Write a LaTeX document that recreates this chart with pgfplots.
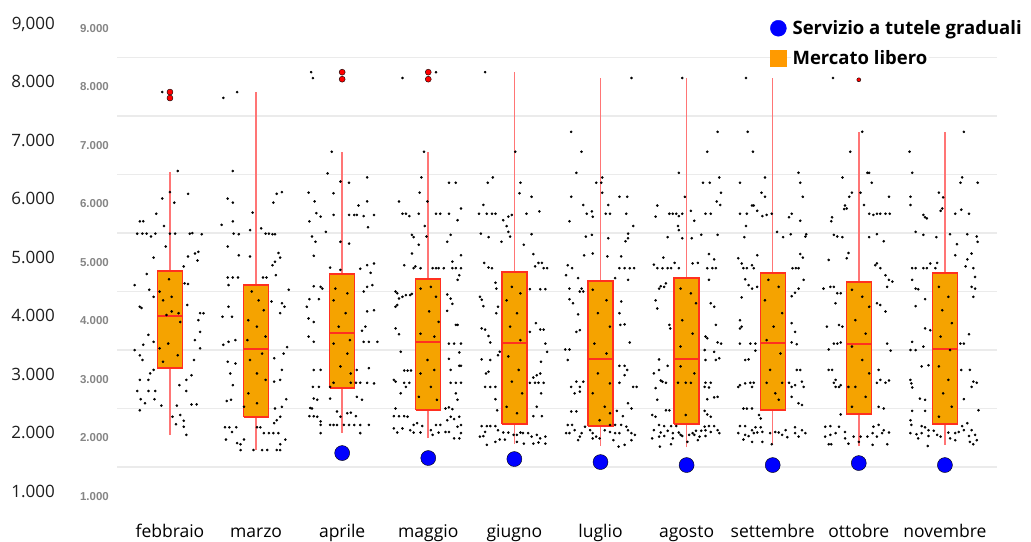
\documentclass[border=0pt]{standalone}
\usepackage{fontspec}
\setmainfont{Open Sans}
\newfontfamily\arialf{Liberation Sans}
\usepackage{pgfplots}
\pgfplotsset{compat=1.18}
\definecolor{boxorange}{HTML}{F5A300}
\definecolor{legorange}{HTML}{FF9A00}
\definecolor{boxred}{HTML}{FF3020}
\definecolor{whisk}{HTML}{FF7575}
\definecolor{gridc}{HTML}{EBEBEB}
\definecolor{lblgray}{HTML}{858585}
\definecolor{lbldark}{HTML}{1E1E1E}
\definecolor{bluedot}{HTML}{0000FF}
\newcommand\lbl[2]{\smash{\makebox[46pt][r]{\raisebox{3pt}{\fontsize{17}{17}\selectfont\color{lbldark}#1}}}\hspace{24pt}\makebox[30pt][r]{\arialf\bfseries\fontsize{11.5}{11.5}\selectfont\color{lblgray}#2}}
\pgfplotsset{dots/.style={only marks, mark=*, mark size=1.1pt, mark options={fill=black, draw=none}, forget plot}}
\begin{document}
\begin{tikzpicture}
\useasboundingbox (0,0) rectangle (1031pt,541pt);
\begin{axis}[
  at={(117pt,33pt)}, anchor=south west,
  width=880pt, height=508pt, scale only axis,
  xmin=-0.615, xmax=9.605, ymin=800, ymax=9484,
  axis line style={draw=none},
  tick style={draw=none},
  xtick={0,...,9},
  xticklabels={febbraio,marzo,aprile,maggio,giugno,luglio,agosto,settembre,ottobre,novembre},
  xticklabel style={font=\fontsize{17.5}{17.5}\selectfont, anchor=base, yshift=-29pt},
  ytick={1000,2000,...,9000},
  yticklabels={{\lbl{1.000}{1.000}},{\lbl{2.000}{2.000}},{\lbl{3.000}{3.000}},{\lbl{4.000}{4.000}},{\lbl{5.000}{5.000}},{\lbl{6.000}{6.000}},{\lbl{7.000}{7.000}},{\lbl{8.000}{8.000}},{\lbl{9,000}{9.000}}},
  yticklabel style={anchor=east, inner sep=0pt, xshift=-8pt},
  minor ytick={1500,2500,...,8500},
  yminorgrids=true, minor grid style={gridc, line width=1.6pt},
  clip=false,
  unbounded coords=jump,
  legend style={at={(0.742,0.964)}, anchor=north west, draw=none, fill=none,
    font=\bfseries\fontsize{18.5}{18.5}\selectfont, inner sep=0pt, row sep=10pt,
    nodes={fill=white, inner sep=2pt},
    /tikz/every odd column/.append style={column sep=4pt}},
  legend cell align=left,
]
% whiskers (lower whisker to upper whisker)
\addplot[whisk, line width=1.6pt, forget plot] coordinates {
(0,2047) (0,6543) (nan,nan) (1,1790) (1,7910) (nan,nan) (2,2081) (2,6885) (nan,nan)
(3,1996) (3,6885) (nan,nan) (4,1893) (4,8252) (nan,nan) (5,1859) (5,8150) (nan,nan)
(6,1842) (6,8150) (nan,nan) (7,1876) (7,8150) (nan,nan) (8,1859) (8,7226) (nan,nan)
(9,1876) (9,7226)};
% boxes (lower quartile to upper quartile)
\addplot[fill=boxorange, draw=boxred, line width=1.3pt, line join=miter, forget plot] coordinates {
(-0.145,3192) (0.145,3192) (0.145,4850) (-0.145,4850) (-0.145,3192) (nan,nan)
(0.855,2355) (1.145,2355) (1.145,4611) (0.855,4611) (0.855,2355) (nan,nan)
(1.855,2850) (2.145,2850) (2.145,4799) (1.855,4799) (1.855,2850) (nan,nan)
(2.855,2474) (3.145,2474) (3.145,4714) (2.855,4714) (2.855,2474) (nan,nan)
(3.855,2235) (4.145,2235) (4.145,4833) (3.855,4833) (3.855,2235) (nan,nan)
(4.855,2200) (5.145,2200) (5.145,4680) (4.855,4680) (4.855,2200) (nan,nan)
(5.855,2235) (6.145,2235) (6.145,4731) (5.855,4731) (5.855,2235) (nan,nan)
(6.855,2474) (7.145,2474) (7.145,4816) (6.855,4816) (6.855,2474) (nan,nan)
(7.855,2406) (8.145,2406) (8.145,4662) (7.855,4662) (7.855,2406) (nan,nan)
(8.855,2235) (9.145,2235) (9.145,4816) (8.855,4816) (8.855,2235)};
% medians
\addplot[boxred, line width=2pt, forget plot] coordinates {
(-0.145,4081) (0.145,4081) (nan,nan) (0.855,3517) (1.145,3517) (nan,nan)
(1.855,3790) (2.145,3790) (nan,nan) (2.855,3637) (3.145,3637) (nan,nan)
(3.855,3620) (4.145,3620) (nan,nan) (4.855,3346) (5.145,3346) (nan,nan)
(5.855,3346) (6.145,3346) (nan,nan) (6.855,3620) (7.145,3620) (nan,nan)
(7.855,3603) (8.145,3603) (nan,nan) (8.855,3517) (9.145,3517)};
% febbraio
\addplot[dots] table[x expr=\thisrow{d}+0, y=v] {
d v
0.09 6560
0.00 6200
-0.09 6090
0.05 6020
0.21 6170
-0.16 5830
-0.35 5700
-0.31 5700
-0.07 5620
-0.38 5490
-0.32 5490
-0.27 5490
-0.22 5440
-0.17 5490
0.00 5490
0.06 5490
0.23 5490
0.26 5500
0.37 5480
-0.05 5270
-0.19 5080
0.21 5100
0.29 5150
0.33 5180
0.16 4930
0.32 5030
-0.27 4800
-0.41 4610
0.17 4640
0.21 4630
-0.24 4530
-0.19 4410
-0.35 4240
-0.33 4220
0.20 4270
0.35 4130
0.39 4130
0.33 4010
-0.25 3760
-0.19 3640
0.35 3810
0.29 3670
-0.41 3500
-0.35 3410
-0.31 3590
-0.32 3330
0.35 3530
0.28 3330
-0.19 3160
-0.23 3100
-0.25 2990
-0.35 2990
0.25 3070
0.19 2990
-0.38 2800
-0.25 2800
-0.17 2800
0.11 2900
0.19 2800
-0.34 2660
-0.18 2660
-0.29 2590
-0.10 2550
0.08 2550
0.31 2570
0.25 2570
-0.35 2470
0.03 2360
0.12 2390
0.16 2290
0.07 2230
0.16 2190
0.19 2050
-0.12 4500
-0.01 4710
-0.08 4350
0.02 4160
0.10 4130
-0.04 4100
0.12 3980
-0.12 3530
-0.02 3610
0.09 3410
-0.08 3300
0.02 4410
-0.09 7910
};
% marzo
\addplot[dots] table[x expr=\thisrow{d}+1, y=v] {
d v
-0.27 6560
0.30 6200
0.24 6170
-0.33 6090
-0.27 6020
0.20 6020
-0.04 5850
-0.40 5640
-0.27 5700
-0.07 5550
-0.26 5490
-0.20 5480
0.06 5580
0.11 5490
0.15 5490
0.19 5480
0.22 5480
-0.33 5270
-0.20 5120
0.26 5160
0.28 5080
0.22 5010
0.19 4950
-0.07 5100
-0.33 4740
-0.27 4740
-0.21 4740
0.08 4740
0.12 4740
0.23 4780
-0.32 4610
-0.39 4070
-0.32 4240
-0.28 4070
0.18 4330
0.30 4300
0.28 4130
0.33 4240
0.38 4530
-0.38 3590
-0.32 3640
-0.24 3670
0.36 3550
0.32 3440
-0.33 3300
-0.24 3270
0.21 3360
0.30 3160
0.28 2990
-0.30 3100
-0.27 2900
0.21 2960
0.35 2660
-0.34 2630
-0.29 2650
0.30 2530
0.22 2500
0.28 2360
0.24 2300
0.21 2250
-0.36 2180
-0.31 2180
-0.28 2100
-0.23 2180
-0.35 1970
-0.22 1910
-0.18 1890
-0.14 1970
0.01 2180
0.05 2180
0.09 2080
0.15 2080
0.20 2080
0.26 2080
0.34 1970
0.28 1890
-0.18 1790
-0.03 1790
0.07 1790
0.13 1790
0.24 1790
0.28 1790
-0.05 4500
0.03 4350
0.09 4180
-0.09 4010
0.01 3900
0.11 3730
-0.10 3670
0.07 3440
-0.07 3330
0.01 3100
0.11 2990
-0.09 2760
0.01 2590
-0.14 2530
-0.38 7810
-0.22 7910
};
% aprile
\addplot[dots] table[x expr=\thisrow{d}+2, y=v] {
d v
-0.12 6890
-0.17 6520
-0.02 6380
0.08 6360
0.29 6450
-0.39 6190
-0.32 6040
-0.10 6180
0.19 5970
0.29 6040
-0.30 5840
-0.25 5780
-0.10 5810
0.08 5810
0.14 5810
0.17 5810
0.25 5790
0.37 5810
-0.38 5700
0.30 5600
-0.35 5440
-0.31 5350
-0.19 5520
-0.02 5350
0.08 5320
-0.33 5110
-0.14 4910
-0.02 4870
0.21 4890
0.29 4950
0.37 4980
0.33 4820
-0.25 4580
-0.23 4550
-0.33 4590
-0.38 4370
-0.27 4370
0.29 4580
0.35 4610
0.25 4500
-0.41 4240
-0.39 4040
0.29 4160
0.37 4180
-0.33 3980
0.27 3900
0.23 3830
-0.39 3730
-0.33 3640
0.25 3640
0.31 3640
0.41 3640
-0.25 3160
-0.33 3160
0.17 3160
0.31 3190
-0.34 2870
-0.27 2870
-0.14 2870
-0.10 2940
0.10 2940
0.16 2940
0.21 2940
0.29 2940
0.37 2930
-0.33 2670
-0.29 2650
-0.14 2670
0.17 2700
0.23 2650
-0.37 2510
-0.35 2500
-0.29 2360
-0.38 2370
-0.33 2370
-0.25 2280
-0.06 2450
-0.02 2360
0.06 2420
0.10 2430
0.16 2370
-0.25 2220
-0.14 2220
-0.10 2220
-0.06 2220
0.02 2220
0.08 2220
0.14 2220
0.21 2220
0.31 2220
-0.25 2080
0.21 2080
-0.08 4550
0.06 4470
-0.10 4350
0.04 4130
-0.04 3900
0.09 3670
-0.10 3610
0.06 3440
-0.02 3220
0.10 3100
-0.36 8250
-0.34 8150
};
% maggio
\addplot[dots] table[x expr=\thisrow{d}+3, y=v] {
d v
-0.05 6890
-0.08 6450
0.24 6360
0.32 6360
-0.10 6190
-0.01 6040
-0.34 6040
-0.30 5830
-0.26 5830
-0.22 5790
-0.11 5830
0.09 5830
0.14 5830
0.24 5830
0.38 5920
0.34 5720
-0.04 5620
-0.19 5470
-0.17 5430
-0.02 5440
0.26 5470
0.22 5350
-0.11 5300
-0.19 5150
0.38 5120
-0.28 4950
-0.17 4900
-0.15 4930
-0.09 4900
0.05 4900
0.09 4900
0.12 4900
0.18 4900
0.28 4900
0.32 4900
0.38 4900
0.28 5010
0.36 4780
0.34 4700
-0.38 4500
-0.36 4470
-0.34 4380
-0.30 4410
-0.26 4440
-0.21 4440
-0.19 4460
-0.36 4270
-0.38 4240
0.22 4450
0.26 4380
0.28 4290
0.22 4170
0.32 3930
0.34 3930
-0.38 3870
-0.34 3770
0.24 3610
0.30 3610
0.38 3610
-0.32 3470
0.36 3460
0.24 3350
0.36 3230
0.38 3230
-0.28 3150
-0.24 3150
-0.20 3150
0.26 3160
-0.40 2990
-0.38 2960
-0.28 2940
-0.26 2870
-0.22 2940
0.26 2940
0.32 2940
0.38 2940
-0.32 2760
0.32 2760
0.34 2650
-0.38 2500
0.20 2500
0.24 2520
0.28 2490
-0.40 2370
-0.34 2370
-0.28 2370
-0.24 2360
-0.17 2220
-0.13 2250
-0.07 2200
0.09 2220
0.14 2220
0.22 2300
0.26 2360
0.30 2320
0.36 2360
0.38 2220
-0.40 2160
-0.36 2090
-0.30 2160
-0.21 2130
-0.17 2090
-0.09 2090
0.03 2130
0.05 2050
0.12 2090
0.20 2100
0.24 2100
0.34 2190
0.38 2080
0.30 1990
0.36 1990
-0.09 4550
0.03 4580
0.09 4410
0.01 4160
0.12 3980
-0.09 3780
0.07 3730
-0.01 3330
-0.09 3100
0.07 3160
0.03 2870
0.10 2650
-0.11 2700
0.09 8250
-0.30 8150
};
% giugno
\addplot[dots] table[x expr=\thisrow{d}+4, y=v] {
d v
0.01 6890
-0.25 6450
-0.31 6360
0.07 6360
0.06 6180
0.20 6120
0.29 5870
-0.36 5980
-0.41 5830
-0.32 5830
-0.26 5830
-0.22 5830
-0.07 5780
-0.03 5810
0.14 5830
-0.39 5490
-0.30 5430
-0.13 5720
-0.09 5620
-0.07 5520
-0.05 5440
0.20 5480
-0.15 5350
0.11 5300
0.22 5140
-0.35 4990
-0.30 4910
-0.26 4900
0.24 4930
0.28 4990
0.32 4990
0.34 4900
0.38 4900
-0.22 4650
-0.21 4550
-0.40 4410
-0.38 4360
-0.36 4250
0.18 4540
0.30 4540
0.36 4540
-0.19 4240
-0.21 4130
-0.38 3870
-0.34 3850
-0.28 3630
-0.30 3740
0.25 3960
0.30 3850
0.34 3850
0.18 3810
-0.17 3470
-0.19 3410
0.38 3470
0.36 3610
-0.38 3340
-0.28 3330
0.31 3300
-0.33 3100
-0.34 2870
-0.28 2870
-0.22 2870
0.22 3030
0.26 3070
0.30 3100
-0.30 3130
0.18 2940
0.24 2940
0.28 2940
0.34 2940
-0.22 2660
0.31 2760
0.26 2530
-0.20 2470
0.22 2370
0.32 2370
-0.38 2200
-0.32 2200
-0.28 2200
-0.34 2100
-0.22 2200
-0.19 2130
-0.13 2090
-0.07 2090
-0.01 2050
0.03 2050
0.07 2090
0.10 2080
0.16 2080
0.20 2020
0.26 2050
0.30 1990
0.36 2020
-0.40 2020
-0.36 2030
-0.32 1880
-0.22 1930
-0.17 1970
-0.11 1970
0.03 1930
0.11 1900
0.22 1900
0.28 1920
0.36 1900
-0.03 4580
0.07 4470
-0.09 4350
0.03 4130
-0.05 3900
0.07 3670
-0.07 3390
0.05 3160
-0.03 2960
0.09 2760
-0.09 2530
0.03 2420
-0.34 8250
};
% luglio
\addplot[dots] table[x expr=\thisrow{d}+5, y=v] {
d v
-0.22 6890
-0.28 6530
-0.05 6360
0.02 6450
0.01 6360
0.02 6190
-0.34 6120
-0.20 5980
0.22 6120
0.31 6120
-0.10 5870
-0.09 5780
-0.16 5830
0.09 5980
0.06 5830
0.11 5830
0.30 5830
-0.36 5700
0.38 5620
-0.17 5440
-0.10 5470
0.09 5410
0.32 5490
0.32 5410
0.29 5360
-0.09 5150
-0.19 5120
0.08 5100
0.24 5100
-0.38 4950
-0.33 4900
-0.40 4780
-0.26 4730
-0.20 4500
-0.24 4500
-0.22 4550
-0.36 4550
0.22 4900
0.28 4900
0.34 4900
0.39 4900
0.32 4700
0.17 4730
-0.36 4370
-0.32 4300
0.24 4330
-0.26 4110
0.22 4130
0.23 3930
0.28 3940
-0.24 3840
-0.28 3810
-0.36 3510
-0.41 3510
0.34 3630
-0.38 3330
0.22 3230
0.28 3230
0.31 3160
0.28 3070
0.42 2870
-0.34 2870
-0.28 2960
-0.24 2870
-0.20 2960
-0.30 2760
-0.24 2790
0.22 2940
0.38 2870
0.32 2590
0.36 2500
-0.34 2450
-0.28 2450
0.19 2460
0.26 2370
-0.38 2220
-0.33 2220
-0.30 2130
-0.22 2080
-0.18 2190
-0.12 2130
0.11 2220
0.17 2220
0.24 2220
0.30 2190
-0.40 2080
-0.36 2080
-0.24 2020
-0.09 2080
-0.05 2020
0.05 2130
0.11 2100
0.17 2080
0.22 2080
0.32 2130
0.36 2080
0.40 2050
-0.26 1960
-0.09 1990
-0.01 1990
0.15 1960
0.21 1850
0.28 1880
0.36 1960
-0.09 4530
0.07 4350
-0.03 4130
0.11 3900
-0.07 3610
0.07 3440
-0.03 3100
0.11 2930
-0.09 2760
0.05 2530
-0.01 2300
0.11 2420
0.36 8150
-0.34 7230
};
% agosto
\addplot[dots] table[x expr=\thisrow{d}+6, y=v] {
d v
0.24 6890
-0.09 6530
0.19 6360
0.27 6360
0.38 6450
-0.02 6120
0.40 6190
0.35 6040
-0.34 5970
-0.36 5780
-0.20 5830
-0.16 5830
-0.12 5830
-0.09 5790
-0.05 5830
0.05 5880
0.09 5710
0.22 5830
0.28 5830
0.39 5980
-0.10 5620
-0.09 5550
-0.22 5430
-0.05 5410
0.06 5410
0.17 5470
0.36 5470
-0.27 5080
-0.14 4990
-0.18 4900
-0.38 4960
-0.34 4900
-0.28 4900
-0.22 4900
-0.09 4900
0.07 4980
0.13 4990
0.26 5140
0.32 5050
0.24 4900
0.30 4900
0.34 4900
-0.30 4590
-0.26 4580
-0.24 4640
-0.32 4550
0.26 4700
0.28 4300
0.32 4240
-0.36 4350
-0.34 4210
0.34 3930
-0.20 3930
-0.19 3870
0.22 3730
0.24 3700
0.36 3630
0.40 3610
0.21 3500
0.32 3470
-0.32 3340
-0.22 3230
0.22 3330
0.34 3330
0.38 3360
-0.38 3100
-0.32 3160
-0.28 2960
-0.30 2980
-0.24 2940
0.22 2940
0.28 2940
0.21 2870
0.26 2860
-0.36 2850
-0.34 2650
0.24 2660
0.32 2690
0.36 2700
-0.24 2470
-0.20 2470
0.21 2460
-0.40 2390
-0.36 2360
0.24 2400
0.28 2360
-0.32 2220
-0.26 2200
-0.18 2200
-0.12 2200
0.21 2190
0.26 2200
0.32 2200
-0.38 2130
-0.30 2090
-0.22 2120
-0.16 2080
-0.09 2090
0.07 2080
0.11 2120
0.17 2120
0.22 2130
0.28 2100
0.36 2130
-0.40 1990
-0.32 2020
-0.26 2030
-0.16 1990
-0.07 2050
-0.05 2030
0.03 2050
0.09 2050
0.15 2020
0.22 2030
0.38 2080
-0.31 1850
-0.18 1890
0.01 1930
0.13 1960
-0.07 4550
0.05 4470
0.11 4300
-0.05 4010
0.07 3780
-0.07 3560
0.09 3100
-0.01 2940
-0.10 2940
0.05 2940
-0.01 2390
-0.07 3220
-0.05 8150
0.36 7230
};
% settembre
\addplot[dots] table[x expr=\thisrow{d}+7, y=v] {
d v
-0.23 6890
-0.38 6360
-0.09 6450
0.32 6360
0.30 6530
-0.13 6190
-0.09 6120
0.35 6120
-0.24 5970
-0.22 5970
-0.18 5880
-0.38 5830
-0.30 5830
-0.12 5790
-0.07 5810
-0.01 5830
0.19 5770
0.22 5830
0.32 5710
0.05 5520
0.12 5430
0.21 5480
0.38 5440
0.39 5480
-0.33 5430
-0.31 5620
-0.18 5120
-0.40 5070
-0.36 4980
-0.34 4900
-0.30 4900
-0.24 4950
-0.22 4900
0.32 5140
0.35 5080
0.23 4900
0.27 4900
0.30 4900
0.36 4700
-0.32 4710
-0.28 4610
-0.24 4550
-0.18 4580
0.22 4420
0.26 4480
0.30 4550
-0.36 4400
-0.38 4010
-0.38 3870
-0.36 3900
0.22 3960
0.26 3810
-0.38 3610
-0.26 3610
-0.20 3610
-0.20 3490
0.22 3630
0.28 3600
-0.32 3330
-0.28 3340
0.28 3160
0.32 3160
-0.40 2870
-0.38 2900
-0.32 2930
-0.26 2940
-0.24 2870
-0.22 2940
0.19 2940
0.22 2870
0.26 2900
0.34 2960
0.36 2870
-0.34 2500
-0.30 2500
-0.24 2500
-0.16 2390
-0.14 2330
0.22 2700
0.30 2590
0.34 2560
-0.38 2200
-0.32 2200
-0.20 2180
-0.14 2180
-0.24 2130
-0.40 2080
-0.32 2050
-0.28 2030
-0.22 2080
-0.18 2090
-0.12 2100
-0.03 2080
0.03 2100
0.07 2090
0.15 2130
0.26 2180
0.34 2130
0.38 2080
-0.34 1970
-0.24 1930
-0.12 1930
-0.01 1890
0.11 2050
0.17 2010
0.26 2080
0.30 2020
-0.05 4700
0.07 4580
-0.09 4350
0.11 4130
0.01 3900
-0.07 3670
0.09 3440
-0.03 3160
0.11 2940
-0.07 2940
0.03 2760
0.07 2650
-0.31 8150
-0.29 7230
};
% ottobre
\addplot[dots] table[x expr=\thisrow{d}+8, y=v] {
d v
-0.10 6890
0.12 6530
-0.19 6450
0.15 6360
-0.08 6190
0.02 6190
-0.11 6120
0.35 6120
-0.16 5970
-0.14 5920
-0.17 5910
0.06 5980
-0.31 5770
-0.32 5700
0.12 5830
0.17 5810
0.21 5830
0.25 5830
0.31 5830
0.36 5830
-0.29 5470
-0.25 5440
-0.19 5430
0.12 5430
0.21 5480
0.29 5360
-0.12 5160
-0.14 5070
-0.35 5040
0.21 4980
0.25 4900
0.19 4950
-0.41 4550
-0.33 4580
-0.29 4580
-0.25 4470
0.31 4780
0.35 4700
0.39 4670
0.33 4580
-0.21 4470
-0.27 4300
0.21 4300
0.25 4270
0.31 4160
-0.37 3900
-0.23 3930
-0.19 3900
-0.29 3610
-0.25 3610
-0.21 3630
0.33 3610
0.37 3490
-0.35 3510
-0.35 3160
-0.31 3160
-0.27 2870
-0.23 2870
-0.21 2900
-0.12 2870
-0.27 2990
-0.29 2940
0.21 2940
0.25 2990
0.31 2940
0.35 2980
0.23 3160
0.29 2500
0.23 2530
-0.21 2400
-0.39 2190
-0.33 2200
-0.23 2190
-0.16 2100
0.17 2190
0.23 2220
0.29 2130
0.35 2090
-0.39 2020
-0.33 2050
-0.27 2080
-0.16 1990
-0.06 2020
0.02 2020
0.10 2020
0.16 2080
0.21 2020
0.27 2080
-0.35 1890
-0.32 1890
-0.12 1900
0.00 1930
0.16 1880
0.33 1890
-0.08 4530
0.04 4410
0.12 4240
-0.04 4010
0.08 3780
-0.08 3560
0.04 3330
0.12 3100
-0.04 2870
0.08 2700
-0.08 2530
-0.30 8150
0.04 7230
0.10 6530
};
% novembre
\addplot[dots] table[x expr=\thisrow{d}+9, y=v] {
d v
-0.41 6890
-0.38 6530
0.18 6360
0.20 6450
0.38 6360
-0.07 6190
-0.02 6110
-0.40 6120
-0.40 5980
-0.25 5810
-0.23 5770
-0.21 5750
-0.05 5880
-0.03 5920
0.12 5830
0.28 5830
0.19 5900
-0.34 5520
-0.25 5470
-0.10 5430
0.06 5480
0.26 5480
0.37 5440
0.38 5350
0.14 5310
0.12 5120
0.31 5150
0.26 5050
-0.38 4900
-0.34 4900
-0.25 4900
-0.21 4900
-0.17 4980
-0.09 4990
-0.11 4900
0.24 4930
0.33 4900
0.35 4750
-0.38 4700
-0.34 4550
-0.31 4540
0.31 4580
0.35 4550
0.33 4410
-0.23 4370
-0.34 4250
0.28 3770
-0.38 3640
-0.40 3500
-0.34 3500
-0.25 3560
-0.17 3840
-0.23 3870
0.18 3610
0.22 3610
-0.27 3220
-0.19 3240
-0.40 2990
-0.39 2930
-0.38 2860
0.33 2960
0.31 2870
0.37 2940
0.19 3160
0.29 3160
-0.29 2670
-0.23 2650
0.22 2660
-0.38 2460
-0.23 2460
0.39 2470
-0.40 2300
-0.39 2220
-0.27 2200
-0.19 2130
-0.23 2180
0.20 2200
0.26 2250
0.31 2130
-0.40 2080
-0.33 2060
-0.27 2080
-0.19 2030
-0.13 2120
-0.09 2050
0.04 2090
0.12 2080
0.16 2100
0.22 2130
0.28 2030
0.35 2050
-0.31 1990
-0.20 1860
-0.05 2020
0.06 1990
0.12 1960
0.29 1930
0.33 1890
0.37 1960
-0.07 4580
0.04 4410
-0.03 4180
0.08 3960
-0.05 3730
0.06 3500
-0.07 3220
0.04 2990
-0.02 2760
0.08 2530
-0.07 2360
0.22 7230
};
% outliers
\addplot[only marks, mark=*, mark size=3pt, mark options={fill=red, draw=none}, forget plot] coordinates {(0,7910) (0,7808) (2,8250) (2,8130) (3,8250) (3,8130)};
\addplot[only marks, mark=*, mark size=2pt, mark options={fill=red, draw=none}, forget plot] coordinates {(8,8120)};
% Servizio a tutele graduali
\addplot[only marks, mark=*, mark size=7.5pt, mark options={fill=bluedot, draw=none}, forget plot] coordinates {(2,1739) (3,1654) (4,1637) (5,1585) (6,1534) (7,1534) (8,1568) (9,1534)};
\addlegendimage{legend image code/.code={\fill[bluedot] (8pt,0pt) circle (8pt);}}
\addlegendentry{Servizio a tutele graduali}
\addlegendimage{legend image code/.code={\fill[legorange] (0pt,-8pt) rectangle (16pt,8pt);}}
\addlegendentry{Mercato libero}
\end{axis}
\end{tikzpicture}
\end{document}
